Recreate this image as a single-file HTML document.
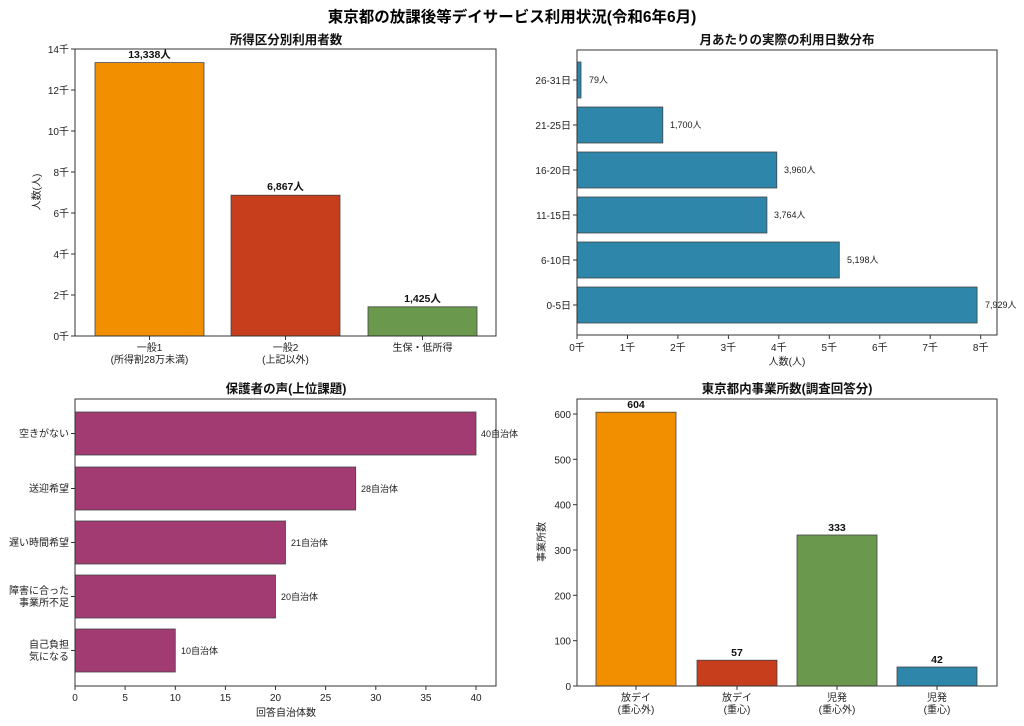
<!DOCTYPE html>
<html><head><meta charset="utf-8"><style>
body{margin:0;background:#fff}
svg{display:block;font-family:"Liberation Sans","Noto Sans CJK JP",sans-serif}
.t{font-size:10px;fill:#222}
.b{font-size:10.5px;font-weight:bold;fill:#111}
.h{font-size:12.5px;font-weight:bold;fill:#111}
.s{font-size:9px;fill:#222}
</style></head><body>
<svg width="1024" height="726" viewBox="0 0 1024 726">
<text x="512" y="22" text-anchor="middle" style="font-size:15.5px;font-weight:bold">東京都の放課後等デイサービス利用状況(令和6年6月)</text>

<!-- TL -->
<text class="h" x="286" y="44" text-anchor="middle">所得区分別利用者数</text>
<g stroke="#444" stroke-width="0.8">
<rect x="95" y="62.6" width="109" height="273.4" fill="#F18F01"/>
<rect x="231" y="195.2" width="109" height="140.8" fill="#C73E1D"/>
<rect x="368" y="306.8" width="109" height="29.2" fill="#6A994E"/>
</g>
<rect x="75" y="49" width="421" height="287" fill="none" stroke="#333" stroke-width="1"/>
<g stroke="#333"><line x1="71" x2="75" y1="336" y2="336"/><line x1="71" x2="75" y1="295" y2="295"/><line x1="71" x2="75" y1="254" y2="254"/><line x1="71" x2="75" y1="213" y2="213"/><line x1="71" x2="75" y1="172" y2="172"/><line x1="71" x2="75" y1="131" y2="131"/><line x1="71" x2="75" y1="90" y2="90"/><line x1="71" x2="75" y1="49" y2="49"/>
<line x1="149.5" x2="149.5" y1="336" y2="340"/><line x1="285.5" x2="285.5" y1="336" y2="340"/><line x1="422.5" x2="422.5" y1="336" y2="340"/></g>
<g class="t" text-anchor="end"><text x="69" y="340">0千</text><text x="69" y="299">2千</text><text x="69" y="258">4千</text><text x="69" y="217">6千</text><text x="69" y="176">8千</text><text x="69" y="135">10千</text><text x="69" y="94">12千</text><text x="69" y="53">14千</text></g>
<text class="t" transform="translate(40,192) rotate(-90)" text-anchor="middle">人数(人)</text>
<g class="t" text-anchor="middle"><text x="149.5" y="351">一般1</text><text x="149.5" y="363">(所得割28万未満)</text><text x="285.5" y="351">一般2</text><text x="285.5" y="363">(上記以外)</text><text x="422.5" y="351">生保・低所得</text></g>
<g class="b" text-anchor="middle"><text x="149.5" y="58">13,338人</text><text x="285.5" y="190">6,867人</text><text x="422.5" y="302">1,425人</text></g>

<!-- TR -->
<text class="h" x="787" y="44" text-anchor="middle">月あたりの実際の利用日数分布</text>
<g stroke="#444" stroke-width="0.8" fill="#2E86AB">
<rect x="577" y="62" width="4" height="36"/>
<rect x="577" y="107" width="85.8" height="36"/>
<rect x="577" y="152" width="199.8" height="36"/>
<rect x="577" y="197" width="189.9" height="36"/>
<rect x="577" y="242" width="262.3" height="36"/>
<rect x="577" y="287" width="400.1" height="36"/>
</g>
<rect x="577" y="50" width="420" height="285" fill="none" stroke="#333"/>
<g stroke="#333">
<line x1="573" x2="577" y1="80" y2="80"/><line x1="573" x2="577" y1="125" y2="125"/><line x1="573" x2="577" y1="170" y2="170"/><line x1="573" x2="577" y1="215" y2="215"/><line x1="573" x2="577" y1="260" y2="260"/><line x1="573" x2="577" y1="305" y2="305"/>
<line x1="577" x2="577" y1="335" y2="339"/><line x1="627.5" x2="627.5" y1="335" y2="339"/><line x1="677.9" x2="677.9" y1="335" y2="339"/><line x1="728.4" x2="728.4" y1="335" y2="339"/><line x1="778.8" x2="778.8" y1="335" y2="339"/><line x1="829.3" x2="829.3" y1="335" y2="339"/><line x1="879.8" x2="879.8" y1="335" y2="339"/><line x1="930.2" x2="930.2" y1="335" y2="339"/><line x1="980.7" x2="980.7" y1="335" y2="339"/></g>
<g class="t" text-anchor="end"><text x="571" y="84">26-31日</text><text x="571" y="129">21-25日</text><text x="571" y="174">16-20日</text><text x="571" y="219">11-15日</text><text x="571" y="264">6-10日</text><text x="571" y="309">0-5日</text></g>
<g class="t" text-anchor="middle"><text x="577" y="351">0千</text><text x="627.5" y="351">1千</text><text x="677.9" y="351">2千</text><text x="728.4" y="351">3千</text><text x="778.8" y="351">4千</text><text x="829.3" y="351">5千</text><text x="879.8" y="351">6千</text><text x="930.2" y="351">7千</text><text x="980.7" y="351">8千</text><text x="787" y="365">人数(人)</text></g>
<g class="s"><text x="589" y="83">79人</text><text x="670" y="128">1,700人</text><text x="784" y="173">3,960人</text><text x="774" y="218">3,764人</text><text x="847" y="263">5,198人</text><text x="985" y="308">7,929人</text></g>

<!-- BL -->
<text class="h" x="286" y="393" text-anchor="middle">保護者の声(上位課題)</text>
<g stroke="#444" stroke-width="0.8" fill="#A23B72">
<rect x="75" y="412" width="401" height="43"/>
<rect x="75" y="467" width="280.7" height="43"/>
<rect x="75" y="521" width="210.5" height="43"/>
<rect x="75" y="575" width="200.5" height="43"/>
<rect x="75" y="629" width="100.3" height="43"/>
</g>
<rect x="75" y="399" width="421" height="287" fill="none" stroke="#333"/>
<g stroke="#333">
<line x1="71" x2="75" y1="433.5" y2="433.5"/><line x1="71" x2="75" y1="488.5" y2="488.5"/><line x1="71" x2="75" y1="542.5" y2="542.5"/><line x1="71" x2="75" y1="596.5" y2="596.5"/><line x1="71" x2="75" y1="650.5" y2="650.5"/>
<line x1="75" x2="75" y1="686" y2="690"/><line x1="125.1" x2="125.1" y1="686" y2="690"/><line x1="175.3" x2="175.3" y1="686" y2="690"/><line x1="225.4" x2="225.4" y1="686" y2="690"/><line x1="275.5" x2="275.5" y1="686" y2="690"/><line x1="325.6" x2="325.6" y1="686" y2="690"/><line x1="375.8" x2="375.8" y1="686" y2="690"/><line x1="425.9" x2="425.9" y1="686" y2="690"/><line x1="476" x2="476" y1="686" y2="690"/></g>
<g class="t" text-anchor="end"><text x="69" y="437">空きがない</text><text x="69" y="492">送迎希望</text><text x="69" y="546">遅い時間希望</text><text x="69" y="594">障害に合った</text><text x="69" y="606">事業所不足</text><text x="69" y="648">自己負担</text><text x="69" y="660">気になる</text></g>
<g class="t" text-anchor="middle"><text x="75" y="701">0</text><text x="125.1" y="701">5</text><text x="175.3" y="701">10</text><text x="225.4" y="701">15</text><text x="275.5" y="701">20</text><text x="325.6" y="701">25</text><text x="375.8" y="701">30</text><text x="425.9" y="701">35</text><text x="476" y="701">40</text><text x="286" y="716">回答自治体数</text></g>
<g class="s"><text x="481" y="437">40自治体</text><text x="361" y="492">28自治体</text><text x="291" y="546">21自治体</text><text x="281" y="600">20自治体</text><text x="181" y="654">10自治体</text></g>

<!-- BR -->
<text class="h" x="787" y="393" text-anchor="middle">東京都内事業所数(調査回答分)</text>
<g stroke="#444" stroke-width="0.8">
<rect x="596" y="412.2" width="80" height="273.8" fill="#F18F01"/>
<rect x="697" y="660.2" width="80" height="25.8" fill="#C73E1D"/>
<rect x="797" y="535" width="80" height="151" fill="#6A994E"/>
<rect x="897" y="667" width="80" height="19" fill="#2E86AB"/>
</g>
<rect x="577" y="399" width="420" height="287" fill="none" stroke="#333"/>
<g stroke="#333">
<line x1="573" x2="577" y1="686" y2="686"/><line x1="573" x2="577" y1="640.7" y2="640.7"/><line x1="573" x2="577" y1="595.3" y2="595.3"/><line x1="573" x2="577" y1="550" y2="550"/><line x1="573" x2="577" y1="504.7" y2="504.7"/><line x1="573" x2="577" y1="459.3" y2="459.3"/><line x1="573" x2="577" y1="414" y2="414"/>
<line x1="636" x2="636" y1="686" y2="690"/><line x1="737" x2="737" y1="686" y2="690"/><line x1="837" x2="837" y1="686" y2="690"/><line x1="937" x2="937" y1="686" y2="690"/></g>
<g class="t" text-anchor="end"><text x="571" y="690">0</text><text x="571" y="644.7">100</text><text x="571" y="599.3">200</text><text x="571" y="554">300</text><text x="571" y="508.7">400</text><text x="571" y="463.3">500</text><text x="571" y="418">600</text></g>
<text class="t" transform="translate(545,542) rotate(-90)" text-anchor="middle">事業所数</text>
<g class="t" text-anchor="middle"><text x="636" y="701">放デイ</text><text x="636" y="713">(重心外)</text><text x="737" y="701">放デイ</text><text x="737" y="713">(重心)</text><text x="837" y="701">児発</text><text x="837" y="713">(重心外)</text><text x="937" y="701">児発</text><text x="937" y="713">(重心)</text></g>
<g class="b" text-anchor="middle"><text x="636" y="408">604</text><text x="737" y="656">57</text><text x="837" y="531">333</text><text x="937" y="663">42</text></g>
</svg>
</body></html>
